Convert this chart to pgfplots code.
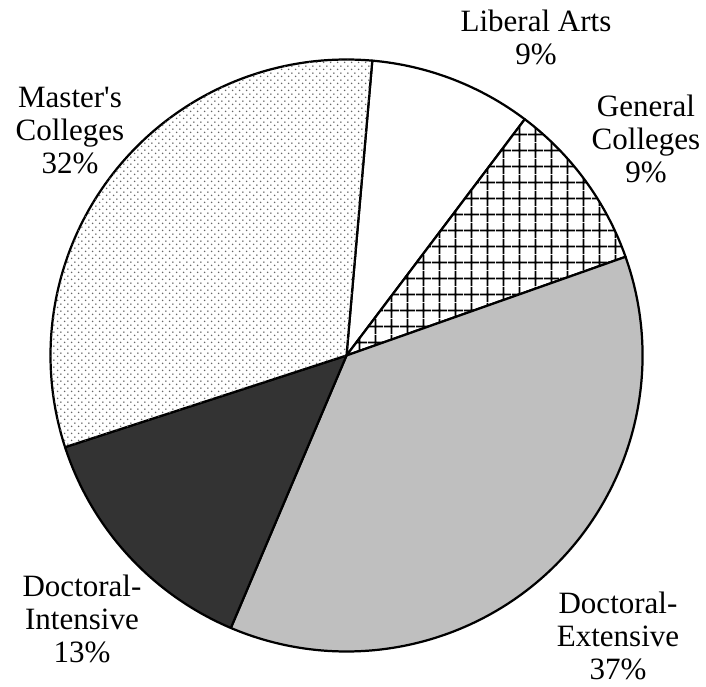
\documentclass[border=0pt]{standalone}
\usepackage{fontspec}
\setmainfont{Liberation Serif}
\usepackage{pgfplots}
\pgfplotsset{compat=1.18}
\usetikzlibrary{patterns}

% crosshatch and dot fills, sized to the reference
\pgfdeclarepatternformonly{cgrid}{\pgfqpoint{0pt}{0pt}}{\pgfqpoint{6.45pt}{6.45pt}}{\pgfqpoint{6.45pt}{6.45pt}}{%
  \pgfsetlinewidth{0.7pt}%
  \pgfpathmoveto{\pgfqpoint{3.225pt}{0pt}}\pgfpathlineto{\pgfqpoint{3.225pt}{6.45pt}}%
  \pgfpathmoveto{\pgfqpoint{0pt}{3.225pt}}\pgfpathlineto{\pgfqpoint{6.45pt}{3.225pt}}%
  \pgfusepath{stroke}}
\pgfdeclarepatternformonly{fdots}{\pgfqpoint{0pt}{0pt}}{\pgfqpoint{2.9pt}{2.9pt}}{\pgfqpoint{2.9pt}{2.9pt}}{%
  \pgfpathcircle{\pgfqpoint{0.725pt}{0.725pt}}{0.36pt}%
  \pgfpathcircle{\pgfqpoint{2.175pt}{2.175pt}}{0.36pt}%
  \pgfusepath{fill}}

\tikzset{
  wedge/.style={draw=black, line width=0.9pt, line join=round},
  sLib/.style={wedge, fill=white},
  sGen/.style={wedge, fill=white, postaction={pattern=cgrid}},
  sExt/.style={wedge, fill=black!25},
  sInt/.style={wedge, fill=black!80},
  sMas/.style={wedge, fill=white, postaction={pattern=fdots, pattern color=black!60}},
  lbl/.style={anchor=north, align=center, inner sep=0pt, font=\fontsize{12.5}{13.3}\selectfont},
}

% shares in percent, clockwise from the top
\pgfplotstableread{
name     pct
Liberal  8.9
General  9.3
DocExt   36.8
DocInt   13.6
Masters  31.4
}\piedata

\newcommand\R{4.1926}   % radius in cm (296 axis units)
\xdef\cur{85}
\newcommand\slice[2]{%
  \pgfplotstablegetelem{#1}{pct}\of\piedata
  \pgfmathsetmacro\sA{\cur}%
  \pgfmathsetmacro\sB{\cur-3.6*\pgfplotsretval}%
  \edef\tmp{\noexpand\draw[#2] (346.5,330.5) -- ++(\sA:\R cm)
    arc[start angle=\sA, end angle=\sB, radius=\R cm] -- cycle;}%
  \tmp
  \xdef\cur{\sB}}

\begin{document}
\begin{tikzpicture}
\begin{axis}[
    scale only axis,
    width=10cm, height=9.7167cm,
    xmin=0, xmax=706, ymin=0, ymax=686,
    hide axis, clip=false,
]
\path (0,0) rectangle (706,686);
\slice{0}{sLib}
\slice{1}{sGen}
\slice{2}{sExt}
\slice{3}{sInt}
\slice{4}{sMas}

\node[lbl] at (536,677) {Liberal Arts\\9\%};
\node[lbl] at (646,592) {General\\Colleges\\9\%};
\node[lbl] at (70,599) {Master\textquotesingle s\\Colleges\\32\%};
\node[lbl] at (82,112) {Doctoral-\\Intensive\\13\%};
\node[lbl] at (618,95) {Doctoral-\\Extensive\\37\%};
\end{axis}
\end{tikzpicture}
\end{document}
